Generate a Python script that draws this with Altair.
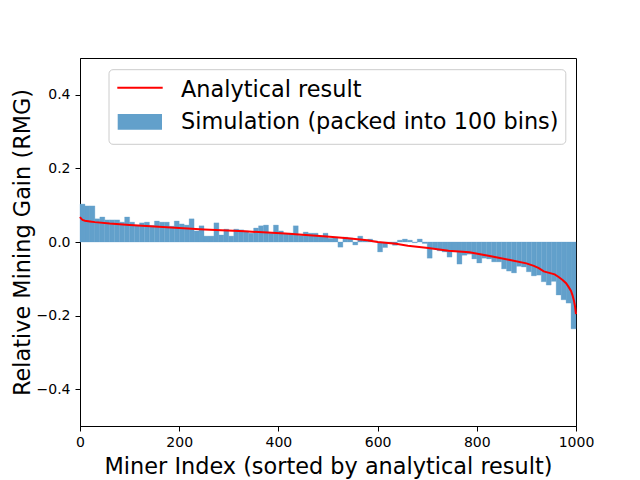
import altair as alt
import numpy as np
import pandas as pd

# ---- data ----
miner_count = 1000
bin_count = 100
bin_values = [
    0.103, 0.098, 0.098, 0.063, 0.068, 0.060, 0.060, 0.060, 0.054, 0.068,
    0.054, 0.046, 0.052, 0.054, 0.045, 0.057, 0.054, 0.054, 0.043, 0.057,
    0.049, 0.046, 0.063, 0.030, 0.044, 0.016, 0.016, 0.052, 0.019, 0.035,
    0.016, 0.035, 0.033, 0.030, 0.024, 0.038, 0.044, 0.046, 0.024, 0.046,
    0.030, 0.022, 0.024, 0.044, 0.018, 0.027, 0.024, 0.024, 0.015, 0.024,
    0.010, 0.013, -0.014, 0.013, 0.011, -0.008, 0.016, 0.005, 0.008, 0.003,
    -0.027, -0.015, -0.003, -0.009, 0.005, 0.008, 0.005, -0.002, 0.008, -0.004,
    -0.044, -0.019, -0.024, -0.027, -0.041, -0.027, -0.060, -0.036, -0.033, -0.046,
    -0.057, -0.044, -0.046, -0.054, -0.054, -0.073, -0.079, -0.084, -0.066, -0.068,
    -0.081, -0.092, -0.090, -0.108, -0.117, -0.107, -0.144, -0.157, -0.166, -0.236,
]

curve_x = [0, 2, 5, 10, 20, 30, 60, 100, 167, 250, 332, 414, 497, 540, 579, 600,
           637, 661, 702, 743, 785, 826, 867, 900, 915, 925, 935, 957, 965, 973,
           980, 985, 990, 993, 996, 998, 1000]
curve_y = [0.068, 0.064, 0.060, 0.058, 0.056, 0.054, 0.050, 0.046, 0.041, 0.034,
           0.029, 0.023, 0.015, 0.010, 0.005, 0.000, -0.005, -0.010, -0.016, -0.024,
           -0.028, -0.038, -0.049, -0.058, -0.065, -0.071, -0.080, -0.088, -0.095,
           -0.103, -0.112, -0.122, -0.133, -0.145, -0.160, -0.175, -0.196]

x_ticks = [0, 200, 400, 600, 800, 1000]
y_ticks = [-0.4, -0.2, 0.0, 0.2, 0.4]
legend_labels = ["Analytical result", "Simulation (packed into 100 bins)"]

# ---- tables ----
edges = np.linspace(0, miner_count, bin_count + 1)
bars_df = pd.DataFrame({"start": edges[:-1], "end": edges[1:],
                        "value": bin_values, "zero": 0.0})
curve_df = pd.DataFrame({"x": curve_x, "y": curve_y})

FONT = "DejaVu Sans"
BLUE = "#62a0cb"
BIG = 22.4

x_scale = alt.Scale(domain=[0, miner_count], nice=False, zero=False)
y_scale = alt.Scale(domain=[-0.5, 0.5], nice=False)

x_axis = alt.Axis(title="Miner Index (sorted by analytical result)", values=x_ticks,
                  format="d", grid=False, tickSize=5, labelPadding=4,
                  labelFontSize=14, labelFlush=False, titleFontSize=BIG,
                  titleFontWeight="normal", titleY=47, titleBaseline="alphabetic")
y_axis = alt.Axis(title="Relative Mining Gain (RMG)", values=y_ticks,
                  format=".1f", grid=False, tickSize=5, labelPadding=5,
                  labelFontSize=14, labelFlush=False, titleFontSize=BIG,
                  titleFontWeight="normal", titleX=-51, titleY=184,
                  titleBaseline="alphabetic", titleAngle=270, titleAlign="center")

bars = alt.Chart(bars_df).mark_rect(color=BLUE, stroke=BLUE, strokeWidth=0.3).encode(
    x=alt.X("start:Q", scale=x_scale, axis=x_axis),
    x2="end:Q",
    y=alt.Y("value:Q", scale=y_scale, axis=y_axis),
    y2="zero:Q",
)

line = alt.Chart(curve_df).mark_line(color="#ff0000", strokeWidth=2).encode(
    x=alt.X("x:Q", scale=x_scale, axis=x_axis),
    y=alt.Y("y:Q", scale=y_scale, axis=y_axis),
)

one = pd.DataFrame({"k": [0]})
legend_box = alt.Chart(one).mark_rect(
    fill="white", fillOpacity=0.8, stroke="#cccccc", strokeWidth=1, cornerRadius=4
).encode(x=alt.value(29), x2=alt.value(485.8), y=alt.value(11.7), y2=alt.value(86.3))

legend_line = alt.Chart(one).mark_rule(color="#ff0000", strokeWidth=2).encode(
    x=alt.value(37.3), x2=alt.value(82.7), y=alt.value(29.7))

legend_patch = alt.Chart(one).mark_rect(color=BLUE).encode(
    x=alt.value(37.7), x2=alt.value(82.0), y=alt.value(56.0), y2=alt.value(71.7))

t1 = alt.Chart(pd.DataFrame({"label": [legend_labels[0]]})).mark_text(
    align="left", baseline="alphabetic", fontSize=BIG, font=FONT, color="black"
).encode(x=alt.value(101), y=alt.value(38.5), text="label:N")

t2 = alt.Chart(pd.DataFrame({"label": [legend_labels[1]]})).mark_text(
    align="left", baseline="alphabetic", fontSize=BIG, font=FONT, color="black"
).encode(x=alt.value(101), y=alt.value(71.3), text="label:N")

chart = alt.layer(bars, line, legend_box, legend_line, legend_patch, t1, t2).properties(
    width=496, height=368,
    autosize=alt.AutoSizeParams(type="none"),
    padding={"left": 72, "top": 50, "right": 40, "bottom": 54},
).configure_view(stroke="black", strokeWidth=1).configure_axis(
    domainColor="black", tickColor="black", labelColor="black", titleColor="black",
    labelFont=FONT, titleFont=FONT, domainWidth=1, tickWidth=1,
)

chart.save("out.html", embed_options={"renderer": "svg", "actions": False})
